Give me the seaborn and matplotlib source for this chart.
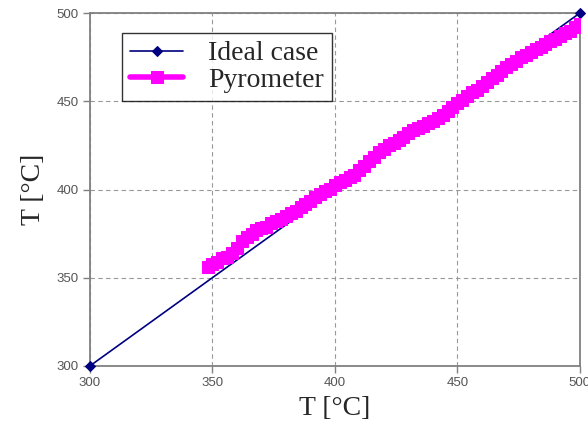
import matplotlib
matplotlib.use("Agg")
import matplotlib.pyplot as plt
import seaborn as sns

# ideal case: measured == set temperature
ideal_x = [300, 500]
ideal_y = [300, 500]

# pyrometer readings
pyro_x = [348, 350, 352, 354, 356, 358, 360, 362, 364, 366, 368, 370, 372, 374,
          376, 378, 380, 382, 384, 386, 388, 390, 392, 394, 396, 398, 400, 402,
          404, 406, 408, 410, 412, 414, 416, 418, 420, 422, 424, 426, 428, 430,
          432, 434, 436, 438, 440, 442, 444, 446, 448, 450, 452, 454, 456, 458,
          460, 462, 464, 466, 468, 470, 472, 474, 476, 478, 480, 482, 484, 486,
          488, 490, 492, 494, 496, 498, 500]
pyro_y = [356, 357.5, 359, 361, 362, 364, 367, 371, 373, 375, 377, 378, 379, 381,
          382, 383.5, 385, 386.5, 388, 390, 391.5, 393.5, 395.5, 397.5, 399, 400.5,
          402.5, 404, 405.5, 407, 408.5, 411, 413.5, 416, 418.5, 421, 423, 425,
          426.5, 428, 430, 432, 433.5, 435, 436, 437.5, 439, 440.5, 442.5, 444.5,
          447, 449, 451, 453, 455, 456.5, 458.5, 461, 463, 465, 467, 469.5, 471,
          473, 475, 476.5, 478, 479.5, 481, 482.5, 484, 485.5, 487, 488.5, 490,
          492, 494]

sns.set_style("white")
plt.rcParams["font.family"] = ["Liberation Sans", "DejaVu Sans"]

fig = plt.figure(figsize=(5.88, 4.23), dpi=100)
ax = fig.add_axes([0.153, 0.135, 0.833, 0.834])

sns.lineplot(x=ideal_x, y=ideal_y, ax=ax, color="#000080", linewidth=1.2,
             marker="D", markersize=5, markeredgecolor="#000080",
             label="Ideal case", clip_on=False, zorder=3)
sns.lineplot(x=pyro_x, y=pyro_y, ax=ax, color="#ff00ff", linewidth=4,
             marker="s", markersize=8.5, markeredgecolor="#ff00ff",
             label="Pyrometer", sort=False, zorder=4)

ax.set_xlim(300, 500)
ax.set_ylim(300, 500)
ax.set_xticks([300, 350, 400, 450, 500])
ax.set_yticks([300, 350, 400, 450, 500])
ax.grid(True, color="#999999", linestyle=(0, (4, 3)), linewidth=0.8)
ax.set_axisbelow(True)

for s in ax.spines.values():
    s.set_color("#808080")
    s.set_linewidth(1.3)

ax.tick_params(axis="both", length=5, width=1, color="#808080",
               labelsize=9.5, labelcolor="#555555", direction="out",
               bottom=True, left=True, pad=3)

serif = ["Liberation Serif", "DejaVu Serif"]
ax.set_xlabel("T [°C]", fontsize=20, family=serif, labelpad=5)
ax.set_ylabel("T [°C]", fontsize=20, family=serif, labelpad=8)

leg = ax.legend(loc="upper left", bbox_to_anchor=(0.065, 0.945),
                borderaxespad=0, prop={"family": serif, "size": 20},
                frameon=True, fancybox=False, edgecolor="#000000",
                handlelength=1.9, borderpad=0.3, labelspacing=0.05,
                handletextpad=0.9)
leg.get_frame().set_linewidth(1.0)

fig.savefig("out.png", dpi=100)
